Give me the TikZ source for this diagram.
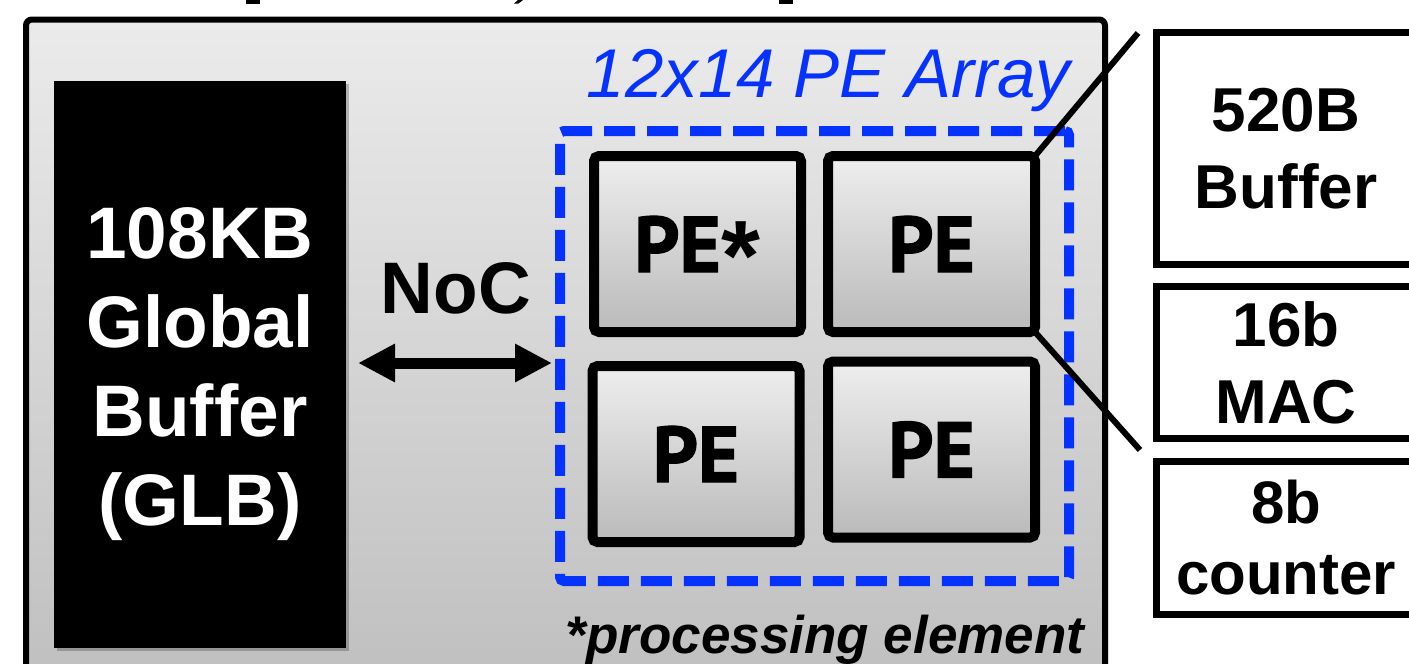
\documentclass[tikz,border=0pt]{standalone}
\usepackage{fontspec}
\setmainfont{Liberation Sans}
\newfontfamily\pefont[FakeBold=1.5]{PT Sans Bold}
\usetikzlibrary{arrows.meta,shadows,calc}
\definecolor{blu}{RGB}{5,50,255}
\definecolor{bgtop}{RGB}{235,235,235}
\definecolor{bgbot}{RGB}{190,190,190}
\definecolor{petop}{RGB}{238,238,238}
\definecolor{pebot}{RGB}{186,186,186}
\begin{document}
\begin{tikzpicture}[x=1pt,y=-1pt,
  softshadow/.style={drop shadow={shadow xshift=3pt,shadow yshift=-3pt,opacity=0.22,fill=black}},
  pebox/.style={draw=black, line width=10pt, rounded corners=5pt, top color=petop, bottom color=pebot,
    minimum width=207pt, minimum height=176pt, inner sep=0pt, outer sep=0pt,
    font=\pefont\fontsize{79}{80}\selectfont, softshadow},
  partbox/.style={draw=black, line width=7pt, fill=white, minimum width=259.5pt, inner sep=0pt,
    outer sep=0pt, align=center, font=\bfseries\fontsize{62}{77}\selectfont, softshadow},
  link/.style={line width=6pt, draw=black},
  plainlbl/.style={anchor=base, inner sep=0pt, outer sep=0pt},
]
\useasboundingbox (0,0) rectangle (1409,664);
\clip (0,0) rectangle (1409,664);

% cut-off fragments of a line above the picture
\fill[black] (246,0) rectangle (260,3.5);
\fill[black] (518,0) -- (523,0) -- (518.5,3.5) -- (514,3.5) -- cycle;
\fill[black] (779,0) rectangle (793,3.5);

% chip outline
\node[name=chip, draw=black, line width=6pt, rounded corners=6pt, top color=bgtop, bottom color=bgbot,
  minimum width=1079pt, minimum height=680.5pt, inner sep=0pt, outer sep=0pt, softshadow] at (565.5,359.75) {};

% global buffer
\node[name=glb, fill=black, minimum width=292pt, minimum height=567pt, inner sep=0pt, outer sep=0pt, softshadow] at (200,364.5) {};
\node[name=glbtxt, text=white, align=center, font=\bfseries\fontsize{73}{89}\selectfont] at (200,374) {108KB\\Global\\Buffer\\(GLB)};

% PE array
\node[name=arr, draw=blu, line width=10pt, dash pattern=on 31pt off 12pt, rounded corners=4pt,
  minimum width=509pt, minimum height=450pt, inner sep=0pt, outer sep=0pt] at (814.5,356) {};
\node[plainlbl, name=arrlbl, text=blu, font=\itshape\fontsize{69}{69}\selectfont] at (828.5,97) {12x14 PE Array};

\node[pebox, name=pe1] at (697.5,244) {PE\kern1pt\raisebox{-18pt}[0pt][0pt]{\normalfont\bfseries\fontsize{100}{100}\selectfont*}};
\node[pebox, name=pe2] at (931.5,244) {PE};
\node[pebox, name=pe3] at (696,454) {PE};
\node[pebox, name=pe4] at (931.5,449.5) {PE};

\node[plainlbl, name=foot, font=\bfseries\itshape\fontsize{53}{53}\selectfont] at (825,653) {*processing element};

% NoC
\node[plainlbl, name=noc, font=\bfseries\fontsize{73}{73}\selectfont] at (456,313) {NoC};
\coordinate (ay) at (0,363);
\draw[line width=11pt, {Triangle[length=37pt,width=36pt]}-{Triangle[length=37pt,width=36pt]},
  shorten <=12pt, shorten >=8pt] (glb.east |- ay) -- (arr.west |- ay);

% zoom lines
\coordinate (z1) at (1138,33);
\coordinate (z2) at (1140,450);
\draw[link] (pe2.north east) -- (z1);
\draw[link] (pe2.south east) -- (z2);

% PE contents
\node[partbox, name=buf, minimum height=231.5pt] at (1286,148.25) {520B\\Buffer};
\node[partbox, name=mac, minimum height=152pt] at (1286,362.5) {16b\\MAC};
\node[partbox, name=cnt, minimum height=152.5pt, font=\bfseries\fontsize{60}{71}\selectfont] at (1286,537.75) {8b\\counter};
\end{tikzpicture}
\end{document}
